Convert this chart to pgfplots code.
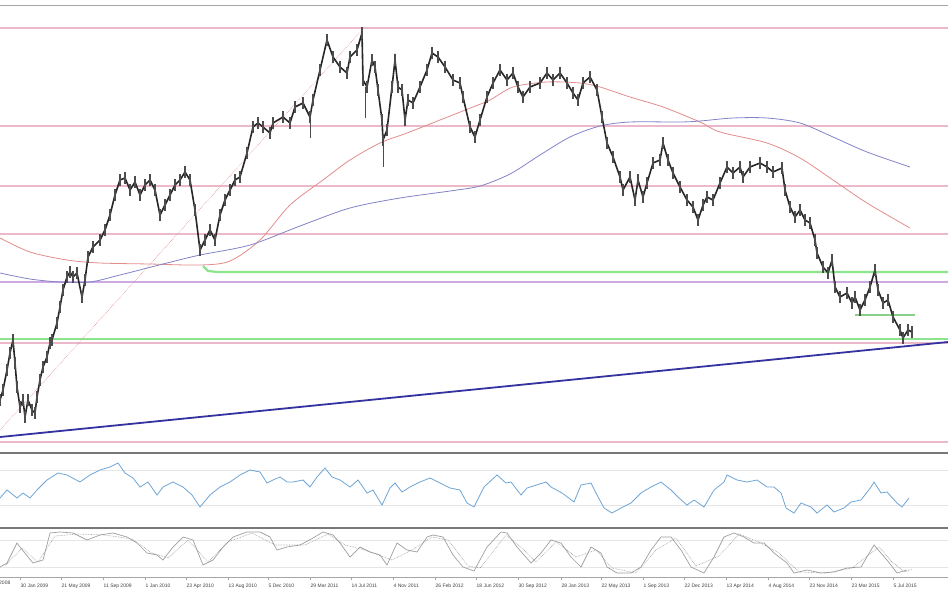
\documentclass[border=0pt]{standalone}
\usepackage{pgfplots}
\pgfplotsset{compat=1.18}
\usepackage{fontspec}
\setmainfont{Liberation Sans}
\definecolor{pinkl}{RGB}{236,185,202}
\definecolor{violl}{RGB}{205,170,225}
\definecolor{greenl}{RGB}{140,228,140}
\definecolor{trendb}{RGB}{50,50,160}
\definecolor{mared}{RGB}{226,140,140}
\definecolor{mablue}{RGB}{130,130,200}
\definecolor{rsib}{RGB}{110,165,215}
\definecolor{sepg}{RGB}{120,120,120}
\begin{document}
\begin{tikzpicture}
\useasboundingbox (0,0) rectangle (948bp,-593bp);
% ---------------- main price panel ----------------
\begin{axis}[at={(0bp,-5bp)}, anchor=north west, scale only axis,
  width=948bp, height=445bp, xmin=0, xmax=948, ymin=5, ymax=450,
  y dir=reverse, axis lines=none]
\draw[gray!70, line width=2bp] (axis cs:0,5) -- (axis cs:948,5);
% horizontal levels
\addplot[pinkl, line width=1.2bp] coordinates {(0,28) (948,28)};
\addplot[pinkl, line width=1.2bp] coordinates {(0,126) (948,126)};
\addplot[pinkl, line width=1.2bp] coordinates {(0,186) (948,186)};
\addplot[pinkl, line width=1.2bp] coordinates {(0,234) (948,234)};
\addplot[violl, line width=1.2bp] coordinates {(0,282) (948,282)};
\addplot[pinkl, line width=1.2bp] coordinates {(0,343) (948,343)};
\addplot[pinkl, line width=1.2bp] coordinates {(0,442) (948,442)};
\addplot[greenl, line width=2.2bp] coordinates {(203,266) (208,271) (218,272) (948,272)};
\addplot[greenl, line width=2.2bp] coordinates {(0,339) (948,339)};
\addplot[greenl!80!gray, line width=1.2bp] coordinates {(855,315) (915,315)};
% trend lines
\addplot[trendb, line width=1.8bp] coordinates {(0,437) (948,342)};
\addplot[mared, line width=0.6bp, densely dotted] coordinates {(0,430) (362,30)};
% moving averages
\addplot[mared, line width=0.8bp, smooth] coordinates {
(0,238) (30,252) (67,260) (100,263) (150,264) (200,265) (230,261) (260,240)
(290,205) (323,180) (350,160) (380,143) (407,133) (440,120) (473,107)
(490,100) (513,87) (547,82) (580,83) (600,87) (630,97) (663,107) (700,122)
(720,132) (767,143) (800,158) (833,180) (867,203) (910,228)};
\addplot[mablue, line width=0.8bp, smooth] coordinates {
(0,273) (30,279) (60,282) (90,282) (120,275) (167,263) (200,255) (250,245)
(300,226) (350,208) (400,198) (450,191) (480,186) (510,174) (540,155)
(570,137) (600,126) (630,122) (680,122) (700,121) (733,118)
(767,118) (800,123) (833,137) (867,152) (910,167)};
% price
\addplot[black!85, line width=1.6bp, error bars/.cd, y dir=both, y fixed=6,
  error mark=none, error bar style={black!70, line width=1.4bp}] coordinates {
(0,400) (3,390) (7,370) (10,353) (13,340) (15,363) (17,387) (20,407) (23,400)
(25,417) (28,400) (32,410) (35,413) (37,397) (40,380) (43,367) (47,357)
(50,343) (52,340) (57,323) (60,307) (63,290) (67,277) (70,272) (73,277)
(77,273) (82,297) (85,280) (88,257) (93,247) (100,240) (105,230) (110,215)
(115,195) (120,180) (125,178) (130,190) (135,182) (140,195) (145,185)
(150,180) (155,190) (160,215) (165,205) (170,195) (175,185) (180,180)
(185,172) (190,180) (195,210) (200,250) (205,240) (210,230) (215,240)
(220,215) (225,200) (230,190) (235,180) (240,177) (247,153) (253,127)
(258,123) (263,127) (270,133) (273,123) (283,117) (290,123) (295,107)
(303,103) (310,117) (313,100) (320,70) (327,40) (333,57) (340,67) (347,73)
(350,57) (357,50) (362,33) (363,80) (367,87) (372,60) (375,67) (378,90)
(382,120) (383,140) (387,130) (392,87) (395,60) (398,87) (402,90) (405,120)
(408,100) (413,103) (420,87) (427,70) (432,53) (438,57) (445,67) (453,80)
(460,83) (463,97) (470,127) (475,137) (480,120) (487,97) (493,83) (500,70)
(507,80) (513,73) (518,87) (523,97) (530,87) (540,83) (547,73) (553,80)
(560,73) (567,83) (573,93) (578,100) (583,83) (590,77) (597,90) (602,117)
(607,143) (613,157) (620,177) (623,190) (630,177) (635,200) (638,180)
(643,197) (647,183) (653,163) (660,160) (663,143) (668,160) (673,173)
(680,187) (687,200) (693,207) (698,220) (703,205) (707,197) (713,200)
(720,183) (727,167) (733,173) (740,167) (743,177) (750,167) (760,163)
(767,167) (773,172) (782,168) (785,190) (790,207) (795,217) (800,210)
(805,220) (810,223) (815,240) (817,253) (823,267) (828,273) (832,260)
(835,287) (840,297) (847,293) (852,303) (855,297) (860,310) (865,300)
(870,287) (875,270) (878,290) (883,303) (888,300) (893,317) (900,330)
(903,338) (908,330) (912,332)};
% long wicks
\addplot[black!70, line width=1bp] coordinates {(310,117) (310,138)};
\addplot[black!70, line width=1bp] coordinates {(383,140) (383,167)};
\addplot[black!70, line width=1bp] coordinates {(365,87) (365,118)};
\end{axis}
% ---------------- RSI panel ----------------
\begin{axis}[at={(0bp,-452bp)}, anchor=north west, scale only axis,
  width=948bp, height=75bp, xmin=0, xmax=948, ymin=452, ymax=527,
  y dir=reverse, axis lines=none]
\draw[sepg, line width=3bp] (axis cs:0,452) -- (axis cs:948,452);
\addplot[gray!20, line width=0.5bp] coordinates {(0,470) (948,470)};
\addplot[gray!20, line width=0.5bp] coordinates {(0,505) (948,505)};
\addplot[rsib, line width=0.8bp] coordinates {
(0,498) (7,490) (17,498) (23,493) (30,498) (37,490) (47,480) (58,473) (67,475)
(80,482) (90,475) (100,470) (110,467) (118,463) (125,473) (133,478) (140,487)
(148,482) (157,495) (163,487) (173,482) (183,487) (192,495) (200,507) (210,495)
(220,487) (230,482) (240,475) (250,470) (260,472) (267,483) (273,480) (280,477)
(287,482) (293,482) (303,480) (310,487) (317,477) (325,468) (332,477) (340,480)
(350,487) (358,480) (367,493) (373,490) (382,505) (390,488) (395,483) (402,492)
(410,487) (420,482) (430,478) (440,483) (450,488) (460,490) (467,503) (474,507)
(484,487) (497,475) (506,483) (511,482) (521,495) (527,488) (546,482) (551,487)
(562,493) (574,502) (581,485) (591,483) (596,493) (604,508) (612,513) (621,508)
(631,503) (641,493) (651,487) (661,482) (671,490) (679,498) (687,505) (694,500)
(704,507) (714,490) (724,482) (727,475) (737,480) (747,482) (757,480) (767,487)
(774,487) (781,493) (786,508) (794,513) (801,503) (811,507) (817,513) (827,505)
(834,512) (844,508) (851,502) (861,500) (871,487) (874,482) (881,493) (887,492)
(897,503) (902,507) (909,498)};
\end{axis}
% ---------------- Stochastic panel ----------------
\begin{axis}[at={(0bp,-527bp)}, anchor=north west, scale only axis,
  width=948bp, height=50bp, xmin=0, xmax=948, ymin=527, ymax=577,
  y dir=reverse, axis x line=bottom, axis y line=none,
  x axis line style={-, gray!70, line width=1bp},
  xtick={20,61,103,145,186,228,268,310,351,393,435,476,518,561,601,643,684,726,768,809,851,893},
  xticklabels={30 Jan 2009, 21 May 2009, 11 Sep 2009, 1 Jan 2010, 23 Apr 2010,
    13 Aug 2010, 5 Dec 2010, 29 Mar 2011, 14 Jul 2011, 4 Nov 2011, 26 Feb 2012,
    18 Jun 2012, 30 Sep 2012, 28 Jan 2013, 22 May 2013, 1 Sep 2013, 22 Dec 2013,
    13 Apr 2014, 4 Aug 2014, 23 Nov 2014, 23 Mar 2015, 5 Jul 2015},
  extra x ticks={10}, extra x tick labels={10 Oct 2008},
  extra x tick style={major tick length=0pt, xticklabel style={anchor=north east}},
  xticklabel style={anchor=north west, font=\fontsize{5}{6}\selectfont,
    text=black!75, inner sep=0pt, yshift=-4bp, xshift=0.5bp},
  tick align=outside, major tick length=3bp,
  tick style={gray!70, line width=0.6bp}, ytick=\empty]
\draw[sepg, line width=3bp] (axis cs:0,527) -- (axis cs:948,527);
\addplot[gray!20, line width=0.5bp] coordinates {(0,540) (948,540)};
\addplot[gray!20, line width=0.5bp] coordinates {(0,567) (948,567)};
\addplot[gray!75, line width=0.7bp] coordinates {
(0,567) (7,563) (17,543) (20,547) (33,563) (43,560) (50,533) (60,532) (73,533)
(87,540) (100,535) (113,533) (127,537) (137,543) (147,553) (157,555) (163,560)
(173,547) (183,537) (193,540) (203,565) (213,560) (223,547) (233,537) (247,532)
(260,532) (270,537) (277,550) (287,547) (300,545) (313,538) (323,532) (333,535)
(340,543) (350,557) (360,547) (370,552) (380,555) (387,565) (397,543) (407,550)
(417,552) (427,537) (433,535) (443,537) (453,555) (463,567) (474,571) (487,547)
(501,532) (507,533) (517,547) (531,563) (541,553) (551,540) (561,543) (571,557)
(581,567) (591,547) (601,553) (607,567) (617,573) (631,573) (641,567) (651,550)
(661,537) (671,537) (681,550) (691,567) (704,573) (714,557) (724,537) (734,533)
(744,537) (754,543) (764,543) (774,553) (787,563) (794,573) (807,570) (821,573)
(834,572) (847,568) (861,567) (874,545) (887,560) (897,573) (907,570)};
\addplot[gray!85, line width=0.6bp, densely dotted] coordinates {
(5,566) (22,548) (38,562) (55,536) (78,534) (105,535) (132,539) (152,553)
(168,558) (188,540) (208,562) (228,542) (252,533) (275,545) (305,545) (328,534)
(345,545) (365,550) (392,560) (412,550) (432,537) (448,540) (468,566) (480,568)
(506,535) (522,548) (536,562) (556,542) (576,557) (596,550) (612,568) (636,573)
(656,550) (676,538) (696,566) (719,556) (739,534) (759,542) (779,553) (799,572)
(826,573) (852,568) (879,547) (892,562) (905,572) (912,569)};
\end{axis}
\end{tikzpicture}
\end{document}
